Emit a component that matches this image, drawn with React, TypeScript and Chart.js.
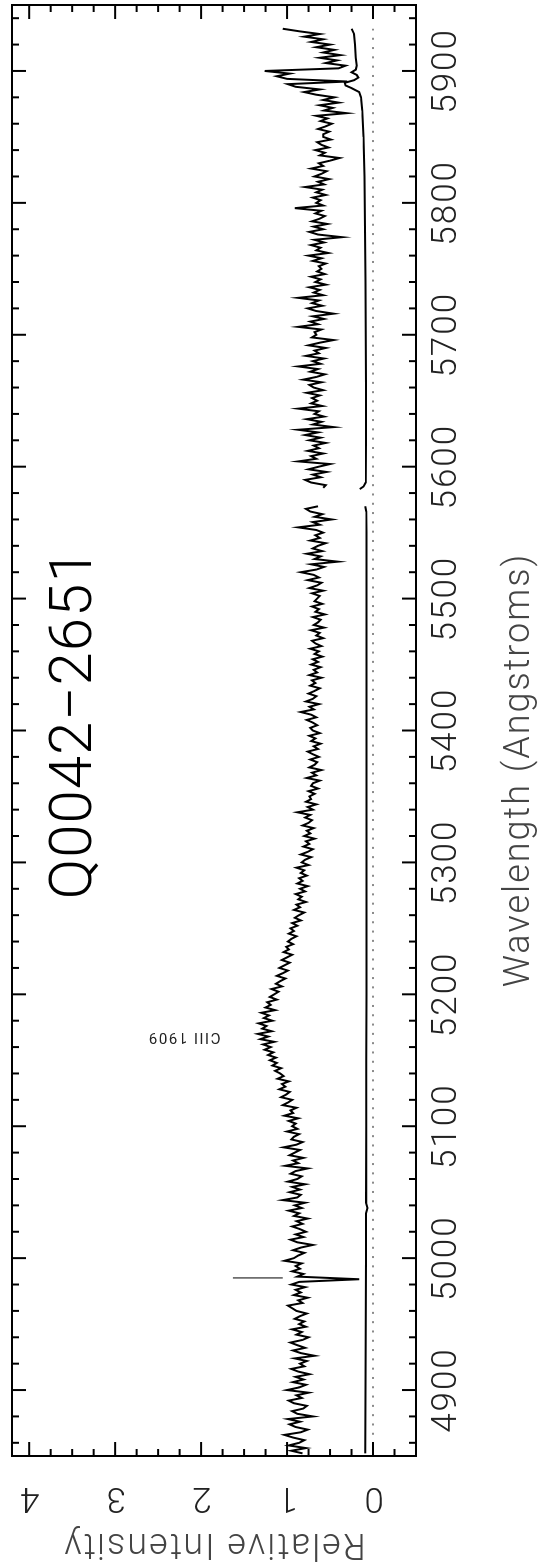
import React, { useEffect, useRef } from "react";
import { Chart, registerables } from "chart.js";

Chart.register(...registerables);

// ---- data (wavelength in Angstroms, relative intensity) ----
const spectrumStart = 4852;
const spectrumStep = 2;
const spectrumFlux: (number | null)[] = [
  // 4852-4900
  0.82, 0.95, 0.78, 0.98, 0.86, 0.80, 0.93, 1.03, 0.84, 0.76, 0.90, 0.97, 0.85, 0.99, 0.70, 0.88, 0.94, 0.81, 0.77, 0.92, 0.98, 0.83, 0.89, 0.75, 1.00,
  // 4902-4950
  0.86, 0.78, 0.93, 0.81, 0.90, 0.74, 0.87, 0.95, 0.80, 0.85, 0.77, 0.91, 0.68, 0.84, 0.93, 0.79, 0.88, 0.96, 0.82, 0.75, 0.89, 0.83, 0.94, 0.78, 0.86,
  // 4952-5000
  0.80, 0.91, 0.85, 0.77, 0.89, 0.94, 0.99, 0.82, 0.87, 0.76, 0.92, 0.84, 0.90, 0.79, 0.95, 0.86, 0.16, 0.88, 0.81, 0.94, 0.85, 0.90, 0.83, 1.03, 0.92,
  // 5002-5050
  0.87, 0.80, 0.93, 0.84, 0.70, 0.88, 0.96, 0.81, 0.90, 0.78, 0.85, 0.94, 0.82, 0.89, 0.76, 0.92, 0.86, 0.98, 0.83, 0.91, 0.79, 1.05, 0.88, 0.84, 0.97,
  // 5052-5100
  0.85, 0.94, 0.79, 0.99, 0.88, 0.83, 0.96, 0.90, 0.76, 1.02, 0.87, 0.93, 0.81, 0.97, 0.91, 0.85, 1.04, 0.89, 0.82, 0.95, 0.92, 0.86, 1.00, 0.88, 0.94,
  // 5102-5150
  0.90, 0.98, 0.87, 1.03, 0.93, 0.96, 0.89, 1.05, 0.99, 0.94, 1.07, 1.01, 0.97, 1.09, 1.02, 1.06, 0.98, 1.11, 1.04, 1.08, 1.14, 1.07, 1.17, 1.12, 1.20,
  // 5152-5200
  1.13, 1.22, 1.16, 1.26, 1.19, 1.28, 1.15, 1.31, 1.22, 1.34, 1.18, 1.29, 1.24, 1.33, 1.17, 1.27, 1.21, 1.30, 1.14, 1.25, 1.19, 1.23, 1.12, 1.20, 1.15,
  // 5202-5250
  1.10, 1.18, 1.06, 1.13, 1.08, 1.02, 1.12, 1.05, 0.99, 1.09, 1.03, 0.97, 1.06, 1.00, 0.94, 1.04, 0.98, 1.01, 0.93, 0.99, 0.95, 0.89, 0.98, 0.92, 0.96,
  // 5252-5300
  0.88, 0.94, 0.84, 0.91, 0.86, 0.80, 0.92, 0.85, 0.89, 0.78, 0.87, 0.83, 0.90, 0.79, 0.85, 0.76, 0.88, 0.82, 0.86, 0.77, 0.84, 0.80, 0.89, 0.75, 0.83,
  // 5302-5350
  0.79, 0.72, 0.84, 0.76, 0.70, 0.81, 0.74, 0.78, 0.68, 0.80, 0.73, 0.77, 0.69, 0.82, 0.75, 0.71, 0.79, 0.73, 0.88, 0.70, 0.76, 0.66, 0.78, 0.72, 0.74,
  // 5352-5400
  0.68, 0.75, 0.64, 0.72, 0.70, 0.62, 0.77, 0.66, 0.71, 0.60, 0.74, 0.68, 0.65, 0.73, 0.63, 0.70, 0.76, 0.64, 0.69, 0.61, 0.72, 0.67, 0.74, 0.62, 0.70,
  // 5402-5450
  0.73, 0.65, 0.70, 0.77, 0.66, 0.72, 0.84, 0.69, 0.74, 0.63, 0.78, 0.70, 0.66, 0.75, 0.68, 0.62, 0.73, 0.67, 0.71, 0.60, 0.74, 0.65, 0.69, 0.61, 0.72,
  // 5452-5500
  0.64, 0.70, 0.59, 0.68, 0.63, 0.73, 0.60, 0.67, 0.71, 0.58, 0.66, 0.62, 0.72, 0.57, 0.69, 0.64, 0.61, 0.70, 0.56, 0.67, 0.63, 0.71, 0.59, 0.68, 0.65,
  // 5502-5550
  0.62, 0.71, 0.58, 0.74, 0.65, 0.60, 0.76, 0.63, 0.69, 0.84, 0.66, 0.57, 0.72, 0.41, 0.68, 0.61, 0.77, 0.59, 0.70, 0.64, 0.55, 0.73, 0.62, 0.67, 0.58,
  // 5552-5600 (detector gap 5572-5582)
  0.66, 0.87, 0.62, 0.70, 0.48, 0.68, 0.59, 0.73, 0.78, 0.64, null, null, null, null, null, null, 0.58, 0.55, 0.72, 0.79, 0.61, 0.70, 0.54, 0.75, 0.63,
  // 5602-5650
  0.50, 0.87, 0.66, 0.72, 0.58, 0.76, 0.63, 0.69, 0.55, 0.74, 0.61, 0.79, 0.64, 0.87, 0.46, 0.70, 0.60, 0.77, 0.57, 0.68, 0.63, 0.87, 0.59, 0.72, 0.65,
  // 5652-5700
  0.71, 0.62, 0.77, 0.58, 0.69, 0.74, 0.60, 0.81, 0.66, 0.56, 0.73, 0.64, 0.87, 0.61, 0.70, 0.57, 0.78, 0.63, 0.68, 0.55, 0.75, 0.62, 0.46, 0.71, 0.66,
  // 5702-5750
  0.68, 0.60, 0.87, 0.64, 0.73, 0.57, 0.70, 0.46, 0.66, 0.76, 0.59, 0.71, 0.63, 0.87, 0.58, 0.69, 0.62, 0.74, 0.55, 0.67, 0.61, 0.72, 0.56, 0.65, 0.60,
  // 5752-5800
  0.63, 0.55, 0.70, 0.60, 0.75, 0.52, 0.66, 0.61, 0.72, 0.57, 0.68, 0.36, 0.64, 0.74, 0.58, 0.69, 0.53, 0.71, 0.62, 0.56, 0.67, 0.60, 0.91, 0.58, 0.66,
  // 5802-5850
  0.61, 0.70, 0.55, 0.66, 0.59, 0.79, 0.57, 0.64, 0.51, 0.68, 0.60, 0.54, 0.72, 0.58, 0.63, 0.50, 0.39, 0.62, 0.56, 0.67, 0.52, 0.60, 0.65, 0.49, 0.58,
  // 5852-5900
  0.58, 0.51, 0.64, 0.55, 0.48, 0.61, 0.53, 0.66, 0.31, 0.57, 0.47, 0.62, 0.40, 0.58, 0.45, 0.66, 0.80, 0.62, 0.90, 0.99, 0.30, 1.00, 1.12, 0.97, 1.26,
  // 5902-5932
  0.40, 0.32, 0.55, 0.42, 0.62, 0.38, 0.58, 0.45, 0.66, 0.50, 0.72, 0.58, 0.80, 0.62, 0.85, 1.05,
];
const spectrumWave = spectrumFlux.map((_, i) => spectrumStart + spectrumStep * i);

const errorWave = [
  4852, 4900, 4950, 5000, 5034, 5038, 5042, 5100, 5150, 5200, 5250, 5300, 5350,
  5400, 5450, 5500, 5550, 5566, 5570, 5576, 5583, 5585, 5588, 5620, 5660, 5700,
  5740, 5780, 5820, 5850, 5870, 5880, 5884, 5887, 5889, 5891, 5893, 5895, 5897,
  5899, 5901, 5904, 5910, 5920, 5928, 5932,
];
const errorFlux: (number | null)[] = [
  0.09, 0.087, 0.085, 0.083, 0.082, 0.066, 0.082, 0.08, 0.078, 0.077, 0.077,
  0.077, 0.077, 0.077, 0.076, 0.076, 0.077, 0.078, 0.09, null, 0.155, 0.11,
  0.085, 0.082, 0.083, 0.085, 0.088, 0.092, 0.1, 0.11, 0.125, 0.14, 0.16, 0.25,
  0.32, 0.33, 0.22, 0.17, 0.19, 0.25, 0.2, 0.19, 0.2, 0.21, 0.22, 0.25,
];

const zeroWave = [4852, 5932];
const zeroFlux = [0, 0];

const markerWave = [4985, 4985];
const markerFlux = [1.05, 1.63];

const xMajorTicks = [4900, 5000, 5100, 5200, 5300, 5400, 5500, 5600, 5700, 5800, 5900];
const xMinorTicks = [
  4860, 4880, 4920, 4940, 4960, 4980, 5020, 5040, 5060, 5080, 5120, 5140, 5160,
  5180, 5220, 5240, 5260, 5280, 5320, 5340, 5360, 5380, 5420, 5440, 5460, 5480,
  5520, 5540, 5560, 5580, 5620, 5640, 5660, 5680, 5720, 5740, 5760, 5780, 5820,
  5840, 5860, 5880, 5920, 5940,
];
const xTickLabels = ["4900", "5000", "5100", "5200", "5300", "5400", "5500", "5600", "5700", "5800", "5900"];
const yMajorTicks = [0, 1, 2, 3, 4];
const yMinorTicks = [-0.25, 0.25, 0.5, 0.75, 1.25, 1.5, 1.75, 2.25, 2.5, 2.75, 3.25, 3.5, 3.75, 4.25];
const yTickLabels = ["0", "1", "2", "3", "4"];

const titleText = "Q0042\u22122651";
const titleWave = 5405;
const titleFlux = 3.46;
const lineLabel = "CIII 1909";
const lineLabelWave = 5168;
const lineLabelFlux = 2.2;
const xTitle = "Wavelength (Angstroms)";
const xTitleWave = 5370;
const yTitle = "Relative Intensity";

const FONT = "Roboto, 'DejaVu Sans', sans-serif";

const decorPlugin = {
  id: "decor",
  afterDatasetsDraw(chart: any) {
    const { ctx, chartArea: a, scales } = chart;
    const x = scales.x;
    const y = scales.y;
    ctx.save();
    ctx.strokeStyle = "#000";
    ctx.lineWidth = 2;
    ctx.lineCap = "butt";
    ctx.strokeRect(a.left, a.top, a.right - a.left, a.bottom - a.top);
    const seg = (x1: number, y1: number, x2: number, y2: number) => {
      ctx.beginPath();
      ctx.moveTo(x1, y1);
      ctx.lineTo(x2, y2);
      ctx.stroke();
    };
    const MAJ = 14;
    const MIN = 7;
    xMajorTicks.forEach((v) => {
      const p = x.getPixelForValue(v);
      seg(p, a.bottom, p, a.bottom - MAJ);
      seg(p, a.top, p, a.top + MAJ);
    });
    xMinorTicks.forEach((v) => {
      const p = x.getPixelForValue(v);
      if (p <= a.left || p >= a.right) return;
      seg(p, a.bottom, p, a.bottom - MIN);
      seg(p, a.top, p, a.top + MIN);
    });
    yMajorTicks.forEach((v) => {
      const p = y.getPixelForValue(v);
      seg(a.left, p, a.left + MAJ, p);
      seg(a.right, p, a.right - MAJ, p);
    });
    yMinorTicks.forEach((v) => {
      const p = y.getPixelForValue(v);
      if (p <= a.top || p >= a.bottom) return;
      seg(a.left, p, a.left + MIN, p);
      seg(a.right, p, a.right - MIN, p);
    });

    // x tick labels
    ctx.fillStyle = "#222";
    ctx.font = `300 35px ${FONT}`;
    (ctx as any).letterSpacing = "2px";
    ctx.textAlign = "center";
    ctx.textBaseline = "middle";
    xMajorTicks.forEach((v, i) => {
      ctx.fillText(xTickLabels[i], x.getPixelForValue(v), a.bottom + 31);
    });
    // y tick labels (parallel to axis)
    yMajorTicks.forEach((v, i) => {
      ctx.save();
      ctx.translate(a.left - 41, y.getPixelForValue(v));
      ctx.rotate(-Math.PI / 2);
      ctx.fillText(yTickLabels[i], 0, 0);
      ctx.restore();
    });
    // axis titles
    ctx.fillStyle = "#444";
    ctx.font = `300 36px ${FONT}`;
    (ctx as any).letterSpacing = "2px";
    ctx.fillText(xTitle, x.getPixelForValue(xTitleWave), a.bottom + 104);
    ctx.save();
    ctx.translate(a.left - 87, (a.top + a.bottom) / 2);
    ctx.rotate(-Math.PI / 2);
    ctx.fillText(yTitle, 0, 0);
    ctx.restore();

    // plot title
    ctx.fillStyle = "#000";
    ctx.font = `300 60px ${FONT}`;
    (ctx as any).letterSpacing = "1px";
    ctx.fillText(titleText, x.getPixelForValue(titleWave), y.getPixelForValue(titleFlux));

    // line identification
    ctx.fillStyle = "#222";
    ctx.font = `15px ${FONT}`;
    (ctx as any).letterSpacing = "1.5px";
    ctx.save();
    ctx.translate(x.getPixelForValue(lineLabelWave), y.getPixelForValue(lineLabelFlux));
    ctx.rotate(-Math.PI / 2);
    ctx.fillText(lineLabel, 0, 0);
    ctx.restore();
    ctx.restore();
  },
};

export default function App() {
  const ref = useRef<HTMLCanvasElement | null>(null);
  useEffect(() => {
    if (!ref.current) return;
    const toPts = (xs: number[], ys: (number | null)[]) => xs.map((w, i) => ({ x: w, y: ys[i] }));
    const chart = new Chart(ref.current, {
      type: "line",
      data: {
        datasets: [
          {
            data: toPts(zeroWave, zeroFlux) as any,
            borderColor: "#8a8a8a",
            borderWidth: 2,
            borderDash: [2, 7.3],
            pointRadius: 0,
          },
          {
            data: toPts(errorWave, errorFlux) as any,
            borderColor: "#000",
            borderWidth: 2,
            pointRadius: 0,
            spanGaps: false,
          },
          {
            data: toPts(spectrumWave, spectrumFlux) as any,
            borderColor: "#000",
            borderWidth: 2,
            pointRadius: 0,
            spanGaps: false,
          },
          {
            data: toPts(markerWave, markerFlux) as any,
            borderColor: "#000",
            borderWidth: 1,
            pointRadius: 0,
          },
        ],
      },
      options: {
        responsive: false,
        animation: false,
        devicePixelRatio: 1,
        layout: { padding: { left: 108, right: 5, top: 12, bottom: 126 } },
        plugins: { legend: { display: false }, tooltip: { enabled: false } },
        elements: { line: { tension: 0 } },
        scales: {
          x: { type: "linear", min: 4850, max: 5950, display: false },
          y: { type: "linear", min: -0.5, max: 4.2, display: false },
        },
      },
      plugins: [decorPlugin],
    });
    return () => chart.destroy();
  }, []);

  return (
    <div style={{ position: "fixed", left: 0, top: 0, width: 542, height: 1564, overflow: "hidden", background: "#fff" }}>
      <div
        style={{
          position: "absolute",
          left: 0,
          top: 0,
          width: 1564,
          height: 542,
          transformOrigin: "0 0",
          transform: "translateY(1564px) rotate(-90deg)",
        }}
      >
        <canvas ref={ref} width={1564} height={542} style={{ display: "block", width: 1564, height: 542 }} />
      </div>
    </div>
  );
}
